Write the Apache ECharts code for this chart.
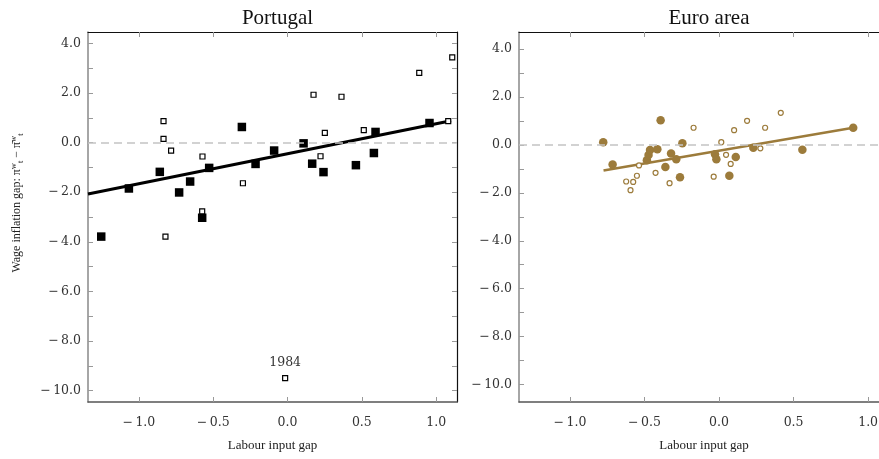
<!DOCTYPE html>
<html>
<head>
<meta charset="utf-8">
<script src="https://cdn.jsdelivr.net/npm/echarts@6/dist/echarts.min.js"></script>
<style>
html,body{margin:0;padding:0;background:#fff;overflow:hidden;}
#chart{width:892px;height:459px;}
</style>
</head>
<body>
<div id="chart"></div>
<script>
// ---------- data ----------
var panelTitles = ['Portugal', 'Euro area'];
var xAxisName = 'Labour input gap';
var yAxisNameParts = ['Wage inflation gap: \u03C0', 'w', 't', ' \u2212 \u03C0\u0304', 'w', 't'];
var xTickValues = [-1.0, -0.5, 0.0, 0.5, 1.0];
var yLabelValues = [-10, -8, -6, -4, -2, 0, 2, 4];
var yTickValues = [-10, -9, -8, -7, -6, -5, -4, -3, -2, -1, 0, 1, 2, 3, 4];

// Portugal
var ptFilledX = [-1.253, -1.067, -0.859, -0.729, -0.655, -0.574, -0.527, -0.307, -0.215, -0.090, 0.108, 0.166, 0.242, 0.460, 0.581, 0.592, 0.955];
var ptFilledY = [-3.79, -1.85, -1.18, -2.01, -1.57, -3.03, -1.02, 0.63, -0.86, -0.32, -0.03, -0.85, -1.19, -0.91, -0.42, 0.43, 0.79];
var ptOpenX = [-0.834, -0.834, -0.821, -0.783, -0.572, -0.574, -0.300, -0.016, 0.175, 0.222, 0.251, 0.363, 0.513, 0.886, 1.081, 1.108];
var ptOpenY = [0.87, 0.15, -3.79, -0.32, -0.56, -2.77, -1.64, -9.50, 1.93, -0.55, 0.39, 1.85, 0.50, 2.81, 0.87, 3.44];
var ptOpenLabels = ['', '', '', '', '', '', '', '1984', '', '', '', '', '', '', '', ''];
var ptFitX = [-1.342, 1.10];
var ptFitY = [-2.07, 0.88];

// Euro area
var eaFilledX = [-0.777, -0.714, -0.484, -0.473, -0.463, -0.414, -0.392, -0.360, -0.322, -0.287, -0.262, -0.246, -0.027, -0.018, 0.069, 0.112, 0.230, 0.559, 0.900];
var eaFilledY = [0.11, -0.82, -0.64, -0.43, -0.22, -0.19, 1.02, -0.93, -0.36, -0.60, -1.35, 0.06, -0.39, -0.60, -1.29, -0.51, -0.12, -0.21, 0.71];
var eaOpenX = [-0.623, -0.594, -0.576, -0.551, -0.537, -0.426, -0.332, -0.171, -0.036, 0.015, 0.047, 0.078, 0.101, 0.188, 0.277, 0.309, 0.414];
var eaOpenY = [-1.53, -1.89, -1.55, -1.29, -0.86, -1.17, -1.60, 0.71, -1.33, 0.11, -0.42, -0.80, 0.61, 1.00, -0.15, 0.71, 1.33];
var eaFitX = [-0.775, 0.900];
var eaFitY = [-1.07, 0.71];

// ---------- styling / layout ----------
var FONT = '"Liberation Serif", "DejaVu Serif", serif';
var NUMFONT = '"DejaVu Serif", serif';
var GOLD = '#9c7b3b';
var xRange = [-1.342, 1.14];
var yRanges = [[-10.46, 4.46], [-10.72, 4.70]];
var grids = [
  {left: 88, top: 32, width: 369, height: 370},
  {left: 519, top: 32, width: 370, height: 370}
];

function zip(xs, ys) { return xs.map(function (x, i) { return [x, ys[i]]; }); }
function fmt(v) {
  var s = Math.abs(v).toFixed(1);
  return v < 0 ? '\u2212\u2009' + s : s;
}

var xAxes = [], yAxes = [];
grids.forEach(function (g, gi) {
  xAxes.push({
    type: 'value', gridIndex: gi, position: 'bottom',
    min: xRange[0], max: xRange[1],
    axisLine: {onZero: false, lineStyle: {color: '#555', width: 1.5}},
    axisTick: {inside: true, length: 5, customValues: xTickValues, lineStyle: {color: '#999', width: 1}},
    axisLabel: {customValues: xTickValues, formatter: fmt, margin: 14, fontSize: 12.5, color: '#333', fontFamily: NUMFONT},
    splitLine: {show: false}
  });
  xAxes.push({
    type: 'value', gridIndex: gi, position: 'top',
    min: xRange[0], max: xRange[1],
    axisLine: {onZero: false, lineStyle: {color: '#111', width: 1.2}},
    axisTick: {inside: true, length: 5, customValues: xTickValues, lineStyle: {color: '#999', width: 1}},
    axisLabel: {show: false},
    splitLine: {show: false}
  });
  yAxes.push({
    type: 'value', gridIndex: gi, position: 'left',
    min: yRanges[gi][0], max: yRanges[gi][1],
    axisLine: {show: true, onZero: false, lineStyle: {color: '#888', width: 1.5}},
    axisTick: {show: true, inside: true, length: 5, customValues: yTickValues, lineStyle: {color: '#999', width: 1}},
    axisLabel: {customValues: yLabelValues, formatter: fmt, margin: 7, fontSize: 12.5, color: '#333', fontFamily: NUMFONT},
    splitLine: {show: false}
  });
  yAxes.push({
    type: 'value', gridIndex: gi, position: 'right',
    min: yRanges[gi][0], max: yRanges[gi][1],
    axisLine: {show: true, onZero: false, lineStyle: {color: '#111', width: 1.2}},
    axisTick: {show: true, inside: true, length: 5, customValues: yTickValues, lineStyle: {color: '#999', width: 1}},
    axisLabel: {show: false},
    splitLine: {show: false}
  });
});

var zeroLine = {
  silent: true, symbol: 'none', animation: false,
  label: {show: false},
  lineStyle: {color: '#c4c4c4', width: 1.5, type: [8, 5]},
  data: [{yAxis: 0}]
};

var ptOpenData = ptOpenX.map(function (x, i) {
  var item = {value: [x, ptOpenY[i]]};
  if (ptOpenLabels[i]) {
    item.label = {show: true, formatter: ptOpenLabels[i], position: 'top', distance: 6,
      fontSize: 12.5, color: '#333', fontFamily: NUMFONT};
  }
  return item;
});

var yNameRich = '{a|' + yAxisNameParts[0] + '}{sup|' + yAxisNameParts[1] + '}{sub|' + yAxisNameParts[2] +
  '}{a|' + yAxisNameParts[3] + '}{sup|' + yAxisNameParts[4] + '}{sub|' + yAxisNameParts[5] + '}';

var option = {
  animation: false,
  backgroundColor: '#fff',
  title: panelTitles.map(function (t, i) {
    return {
      text: t, left: grids[i].left + grids[i].width / 2, top: 3, textAlign: 'center',
      textStyle: {fontFamily: FONT, fontSize: 21, fontWeight: 'normal', color: '#111'}
    };
  }),
  grid: grids,
  xAxis: xAxes,
  yAxis: yAxes,
  graphic: [
    {type: 'text', x: 88 + 369 / 2, y: 446,
      style: {text: xAxisName, font: '13px ' + FONT, fill: '#222', align: 'center', verticalAlign: 'middle'}},
    {type: 'text', x: 519 + 370 / 2, y: 446,
      style: {text: xAxisName, font: '13px ' + FONT, fill: '#222', align: 'center', verticalAlign: 'middle'}},
    {type: 'text', x: 17, y: 203, rotation: Math.PI / 2,
      style: {text: yNameRich, align: 'center', verticalAlign: 'middle', fill: '#222',
        rich: {
          a: {fontFamily: FONT, fontSize: 12, fill: '#222', lineHeight: 16},
          sup: {fontFamily: FONT, fontSize: 8.5, fill: '#222', verticalAlign: 'top', lineHeight: 16, padding: [0, 0, 6, 0]},
          sub: {fontFamily: FONT, fontSize: 8.5, fill: '#222', verticalAlign: 'bottom', lineHeight: 16, padding: [4, 0, 0, 0]}
        }}}
  ],
  series: [
    {type: 'line', xAxisIndex: 0, yAxisIndex: 0, data: zip(ptFitX, ptFitY), showSymbol: false, symbol: 'none',
      lineStyle: {color: '#000', width: 3}, z: 2, markLine: zeroLine},
    {type: 'scatter', xAxisIndex: 0, yAxisIndex: 0, data: zip(ptFilledX, ptFilledY), symbol: 'rect', symbolSize: 8.5,
      itemStyle: {color: '#000', opacity: 1}, z: 3},
    {type: 'scatter', xAxisIndex: 0, yAxisIndex: 0, data: ptOpenData, symbol: 'rect', symbolSize: 5,
      itemStyle: {color: '#fff', borderColor: '#000', borderWidth: 1.2, opacity: 1}, z: 4},
    {type: 'line', xAxisIndex: 2, yAxisIndex: 2, data: zip(eaFitX, eaFitY), showSymbol: false, symbol: 'none',
      lineStyle: {color: GOLD, width: 2.5}, z: 2, markLine: zeroLine},
    {type: 'scatter', xAxisIndex: 2, yAxisIndex: 2, data: zip(eaFilledX, eaFilledY), symbol: 'circle', symbolSize: 8.5,
      itemStyle: {color: GOLD, opacity: 1}, z: 3},
    {type: 'scatter', xAxisIndex: 2, yAxisIndex: 2, data: zip(eaOpenX, eaOpenY), symbol: 'circle', symbolSize: 5,
      itemStyle: {color: '#fff', borderColor: GOLD, borderWidth: 1.2, opacity: 1}, z: 4}
  ]
};

var chart = echarts.init(document.getElementById('chart'), null, {renderer: 'canvas'});
chart.setOption(option);
</script>
</body>
</html>
